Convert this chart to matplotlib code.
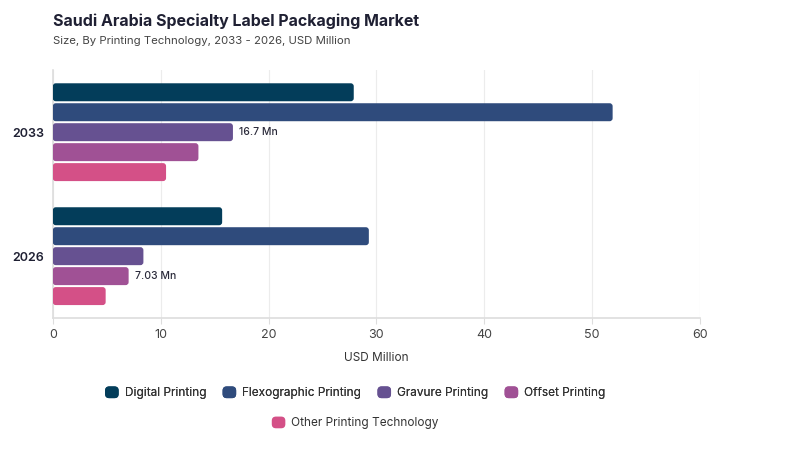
import matplotlib
matplotlib.use('Agg')
import matplotlib.pyplot as plt
import numpy as np
from matplotlib.patches import FancyBboxPatch, Patch
from matplotlib.legend_handler import HandlerPatch

plt.rcParams['font.family'] = ['Inter', 'DejaVu Sans']

# Data
years = ["2033", "2026"]
technologies = [
    "Digital Printing",
    "Flexographic Printing",
    "Gravure Printing",
    "Offset Printing",
    "Other Printing Technology",
]
digital = [27.9, 15.7]
flexographic = [51.9, 29.3]
gravure = [16.7, 8.4]
offset = [13.5, 7.03]
other = [10.5, 4.9]
series = [digital, flexographic, gravure, offset, other]

# label shown next to one bar per year: (series index, text)
bar_notes = {"2033": (2, "16.7 Mn"), "2026": (3, "7.03 Mn")}

colors = ["#033d5a", "#2f4b7c", "#665191", "#a05195", "#d45087"]
text_dark = "#1f2033"


class RoundHandler(HandlerPatch):
    def create_artists(self, legend, orig_handle, xdescent, ydescent,
                       width, height, fontsize, trans):
        p = FancyBboxPatch((-xdescent, -ydescent), width, height,
                           boxstyle="round,pad=0,rounding_size=3",
                           facecolor=orig_handle.get_facecolor(),
                           edgecolor="none", transform=trans)
        return [p]


fig = plt.figure(figsize=(8, 4.5), dpi=100)
ax = fig.add_axes([0.066, 0.293, 0.809, 0.551])

pitch = 0.161
height = 0.145
y = np.arange(len(years))
xmax = 60

ax.set_xlim(0, xmax)
ax.set_ylim(1.5, -0.5)

# aspect for rounded corners (data units per pixel)
px_x = xmax / (0.809 * 800)
px_y = 2.0 / (0.551 * 450)
aspect = px_y / px_x

for i, (vals, col) in enumerate(zip(series, colors)):
    offs = (i - 2) * pitch
    bars = ax.barh(y + offs, vals, height=height, color=col)
    for b in bars:
        b.set_visible(False)
        r = min(3 * px_x, b.get_width() / 2)
        patch = FancyBboxPatch((b.get_x(), b.get_y()), b.get_width(), b.get_height(),
                               boxstyle=f"round,pad=0,rounding_size={r}",
                               mutation_aspect=aspect, facecolor=col,
                               edgecolor="none", zorder=3)
        ax.add_patch(patch)

for j, yr in enumerate(years):
    idx, txt = bar_notes[yr]
    ax.text(series[idx][j] + 6 * px_x, y[j] + (idx - 2) * pitch, txt,
            va="center", ha="left", fontsize=7.5, fontweight="medium",
            color="#2a2a3a")

ax.set_yticks(y)
ax.set_yticklabels(years, fontsize=9, fontweight="semibold", color=text_dark)
ax.set_xticks(range(0, 61, 10))
ax.tick_params(axis="x", labelsize=9, colors="#444444", length=4, color="#dddddd")
ax.tick_params(axis="y", length=0, pad=6)
ax.grid(axis="x", color="#ececec", linewidth=0.8, zorder=0)
ax.set_axisbelow(True)
for s in ["top", "right"]:
    ax.spines[s].set_visible(False)
for s in ["left", "bottom"]:
    ax.spines[s].set_color("#dddddd")
    ax.spines[s].set_linewidth(1.2)
ax.set_xlabel("USD Million", fontsize=8.5, color="#333333", labelpad=8)

fig.text(0.066, 0.952, "Saudi Arabia Specialty Label Packaging Market",
         fontsize=11.5, fontweight="bold", color=text_dark, va="center")
fig.text(0.066, 0.908, "Size, By Printing Technology, 2033 - 2026, USD Million",
         fontsize=8.2, color="#444444", va="center")

handles = [Patch(facecolor=c, edgecolor="none") for c in colors]
hmap = {Patch: RoundHandler()}
leg1 = fig.legend(handles[:4], technologies[:4], loc="center", ncol=4,
                  bbox_to_anchor=(0.444, 0.127), frameon=False, fontsize=8.5,
                  handlelength=1.15, handleheight=1.15, columnspacing=1.4,
                  handletextpad=0.5, labelcolor="#333333", handler_map=hmap)
fig.legend(handles[4:], technologies[4:], loc="center", ncol=1,
           bbox_to_anchor=(0.444, 0.06), frameon=False, fontsize=8.5,
           handlelength=1.15, handleheight=1.15, handletextpad=0.5,
           labelcolor="#333333", handler_map=hmap)
fig.add_artist(leg1)

fig.savefig("out.png", dpi=100, facecolor="white")
